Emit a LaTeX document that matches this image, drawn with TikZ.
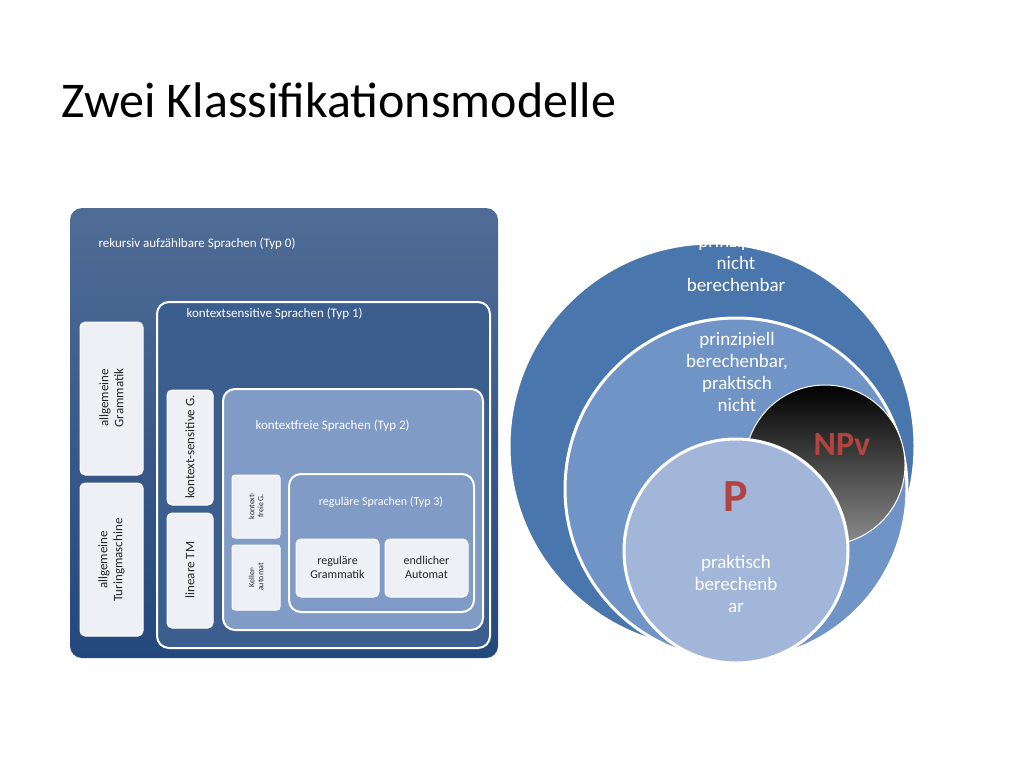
\documentclass[tikz,border=0pt]{standalone}
\usepackage{fontspec}
\setmainfont{Carlito}
\usetikzlibrary{positioning,shadings}
\definecolor{darkblue}{HTML}{24487C}
\definecolor{midblue}{HTML}{3B5E8E}
\definecolor{lightblue}{HTML}{7F9BC6}
\definecolor{boxgray}{HTML}{EEF0F5}
\definecolor{ringblue}{HTML}{4A76AE}
\definecolor{ring2}{HTML}{7094C6}
\definecolor{pblue}{HTML}{A2B6D9}
\definecolor{npred}{HTML}{B2443F}
\tikzstyle{lang} = [rounded corners=12pt, draw=white, line width=2pt]
\tikzstyle{block} = [rounded corners=5pt, fill=boxgray, draw=white, line width=1pt]
\tikzstyle{boxtext} = [font=\fontsize{13}{15}\selectfont, align=center, text=black!85]
\tikzstyle{ring} = [draw=white, line width=3pt]
\begin{document}
\begin{tikzpicture}[x=1pt, y=-1pt]
    \useasboundingbox (0,0) rectangle (1024,768);
    % Title
    \node [anchor=west, font=\fontsize{50}{56}\selectfont] (title) at (58,100) {Zwei Klassifikationsmodelle};

    % Chomsky boxes
    \draw [lang, draw=none, top color=darkblue!80!white, bottom color=darkblue] (70,208) rectangle (498,658);
    \node [anchor=west, boxtext, text=white] (typ0) at (95,244) {rekursiv aufzählbare Sprachen (Typ 0)};
    \draw [block] (80,322) rectangle (143,475);
    \node [boxtext, rotate=90] (allgram) at (111.5,398) {allgemeine\\Grammatik};
    \draw [block] (80,483) rectangle (143,636);
    \node [boxtext, rotate=90] (alltm) at (111.5,560) {allgemeine\\Turingmaschine};

    \draw [lang, fill=midblue] (157,302) rectangle (490,648);
    \node [anchor=west, boxtext, text=white] (typ1) at (183,314) {kontextsensitive Sprachen (Typ 1)};
    \draw [block] (167,390) rectangle (213,505);
    \node [boxtext, rotate=90] (ksg) at (190,447) {kontext-sensitive G.};
    \draw [block] (167,513) rectangle (213,628);
    \node [boxtext, rotate=90] (ltm) at (190,570) {lineare TM};

    \draw [lang, fill=lightblue] (223,389) rectangle (483,630);
    \node [anchor=west, boxtext, text=white] (typ2) at (252,426) {kontextfreie Sprachen (Typ 2)};
    \draw [block, rounded corners=3pt] (232,475) rectangle (280,538);
    \node [boxtext, rotate=90, font=\fontsize{8}{9}\selectfont] (kfg) at (256,506) {kontext-\\freie G.};
    \draw [block, rounded corners=3pt] (232,545) rectangle (280,610);
    \node [boxtext, rotate=90, font=\fontsize{8}{9}\selectfont] (keller) at (256,577) {Keller-\\automat};

    \draw [lang, fill=lightblue] (289,474) rectangle (474,612);
    \node [boxtext, text=white, font=\fontsize{12}{14}\selectfont] (typ3) at (381,502) {reguläre Sprachen (Typ 3)};
    \draw [block] (296,539) rectangle (379,597);
    \node [boxtext, font=\fontsize{12}{14}\selectfont] (regg) at (337.5,567) {reguläre\\Grammatik};
    \draw [block] (385,539) rectangle (468,597);
    \node [boxtext, font=\fontsize{12}{14}\selectfont] (ea) at (426.5,567) {endlicher\\Automat};

    % Complexity circles
    \draw [ring, fill=ringblue] (712,446) circle (203);
    \node [boxtext, text=white, font=\fontsize{19}{22}\selectfont] (nicht) at (736,263) {prinzipiell\\nicht\\berechenbar};
    \draw [ring, fill=ring2] (736,489) circle (171);
    \node [boxtext, text=white, font=\fontsize{19}{22}\selectfont] (prakt) at (737,372) {prinzipiell\\berechenbar,\\praktisch\\nicht};
    \shade [top color=black, bottom color=black!45] (825,465) circle (80);
    \draw [white, line width=1pt] (825,465) circle (80);
    \node [text=npred, font=\bfseries\fontsize{34}{40}\selectfont] (npv) at (842,444) {NPv};
    \draw [ring, fill=pblue] (736,551) circle (112);
    \node [text=npred, font=\bfseries\fontsize{46}{52}\selectfont] (p) at (736,497) {P};
    \node [boxtext, text=white, font=\fontsize{19}{22}\selectfont] (ber) at (736,584) {praktisch\\berechenb\\ar};
\end{tikzpicture}
\end{document}
